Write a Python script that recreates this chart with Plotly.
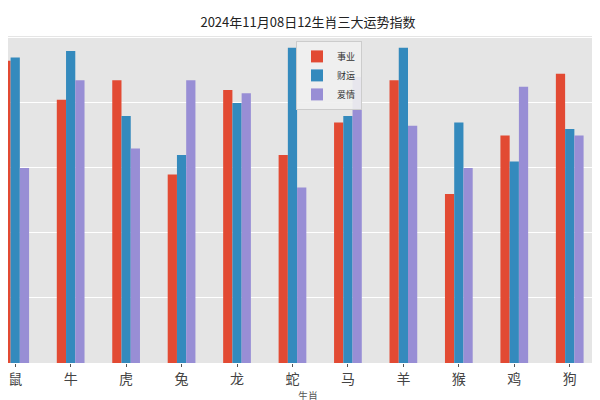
import plotly.graph_objects as go

zodiac = ["鼠","牛","虎","兔","龙","蛇","马","羊","猴","鸡","狗"]
career = [93,81,87,58,84,64,74,87,52,70,89]
wealth = [94,96,76,64,80,97,76,97,74,62,72]
love = [60,87,66,87,83,54,88,73,60,85,70]

fig = go.Figure()
for name, vals, col in [("事业", career, "#E24A33"), ("财运", wealth, "#348ABD"), ("爱情", love, "#988ED5")]:
    fig.add_bar(x=zodiac, y=vals, name=name, marker_color=col, marker_line_width=0)

fig.update_layout(
    width=600, height=400, barmode="group", bargap=0.5, bargroupgap=0,
    paper_bgcolor="white", plot_bgcolor="#E5E5E5",
    margin=dict(l=0, r=0, t=28, b=45),
    font=dict(family="Noto Sans CJK SC", color="#333"),
    title=dict(text="2024年11月08日12生肖三大运势指数", x=0.5, y=0.975, xanchor="center", font=dict(size=13, color="#222")),
    legend=dict(x=0.48, y=0.985, xanchor="left", yanchor="top", bgcolor="rgba(240,240,240,0.9)",
                bordercolor="#ccc", borderwidth=1, font=dict(size=9), itemwidth=30,
                tracegroupgap=0, itemsizing="constant"),
    xaxis=dict(range=[-0.13, 10.69], showgrid=False, tickfont=dict(size=14, color="#444"),
               ticks="outside", ticklen=3, tickcolor="#555",
               title=dict(text="生肖", font=dict(size=10, color="#555"), standoff=0)),
    yaxis=dict(range=[0, 100.6], dtick=20, showticklabels=False, gridcolor="white", gridwidth=1, zeroline=False),
)
fig.write_html("out.html")
